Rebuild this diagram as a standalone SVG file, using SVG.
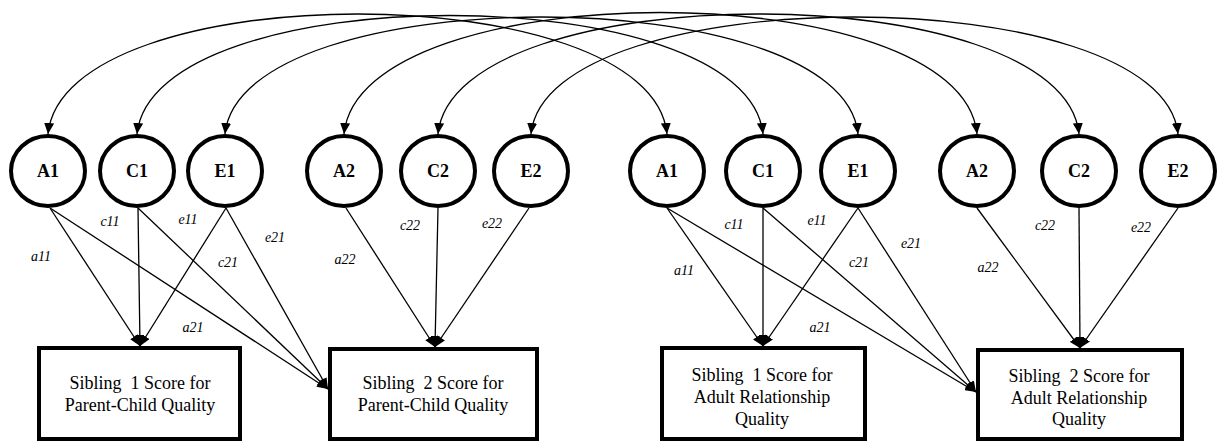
<svg xmlns="http://www.w3.org/2000/svg" width="1218" height="443" viewBox="0 0 1218 443">
<style>
.lat{fill:#fff;stroke:#000;stroke-width:4}
text{font-family:'Liberation Serif','Times New Roman',Times,'DejaVu Serif',serif}
.lt{font-weight:bold;font-size:18px;text-anchor:middle}
.box{fill:#fff;stroke:#000;stroke-width:4}
.bt{font-size:18px;text-anchor:middle;white-space:pre}
.lbl{font-style:italic;font-size:14px;text-anchor:middle}
.arc{fill:none;stroke:#000;stroke-width:1.3;marker-start:url(#ah);marker-end:url(#ah)}
.ln{fill:none;stroke:#000;stroke-width:1.3;marker-end:url(#ah2)}
</style>
<defs>
<marker id="ah" markerUnits="userSpaceOnUse" markerWidth="11" markerHeight="10" refX="11" refY="5" orient="auto-start-reverse" viewBox="0 0 11 10">
<path d="M0,0 L11,5 L0,10 z" fill="#000"/>
</marker>
<marker id="ah2" markerUnits="userSpaceOnUse" markerWidth="11" markerHeight="9" refX="11" refY="4.5" orient="auto" viewBox="0 0 11 9">
<path d="M0,0 L11,4.5 L0,9 z" fill="#000"/>
</marker>
</defs>
<g id="connectors">
<path class="arc" d="M48,134 C64,-26 651,-26 667,134"/>
<path class="arc" d="M137,134 C153,-24 747,-24 763,134"/>
<path class="arc" d="M225,134 C241,-22 842,-22 858,134"/>
<path class="arc" d="M344,134 C360,-28 961,-28 977,134"/>
<path class="arc" d="M438,134 C454,-26 1063,-26 1079,134"/>
<path class="arc" d="M531,134 C547,-22 1162,-22 1178,134"/>
<path class="ln" d="M50,208 L140,346"/>
<path class="ln" d="M138,208 L140,346"/>
<path class="ln" d="M226,208 L140,346"/>
<path class="ln" d="M50,208 L328,389"/>
<path class="ln" d="M138,208 L328,389"/>
<path class="ln" d="M226,208 L328,389"/>
<path class="ln" d="M346,208 L435,347"/>
<path class="ln" d="M438,208 L435,347"/>
<path class="ln" d="M529,208 L435,347"/>
<path class="ln" d="M667,208 L763,346"/>
<path class="ln" d="M763,208 L763,346"/>
<path class="ln" d="M858,208 L763,346"/>
<path class="ln" d="M667,208 L976,392"/>
<path class="ln" d="M763,208 L976,392"/>
<path class="ln" d="M858,208 L976,392"/>
<path class="ln" d="M977,208 L1080,348"/>
<path class="ln" d="M1079,208 L1080,348"/>
<path class="ln" d="M1178,208 L1080,348"/>
</g>
<g id="labels">
<text class="lbl" x="41" y="261">a11</text>
<text class="lbl" x="110" y="226">c11</text>
<text class="lbl" x="188" y="224">e11</text>
<text class="lbl" x="228" y="267">c21</text>
<text class="lbl" x="275" y="242">e21</text>
<text class="lbl" x="193" y="332">a21</text>
<text class="lbl" x="345" y="264">a22</text>
<text class="lbl" x="410" y="230">c22</text>
<text class="lbl" x="492" y="228">e22</text>
<text class="lbl" x="684" y="275">a11</text>
<text class="lbl" x="734" y="229">c11</text>
<text class="lbl" x="817" y="225">e11</text>
<text class="lbl" x="859" y="267">c21</text>
<text class="lbl" x="911" y="248">e21</text>
<text class="lbl" x="820" y="332">a21</text>
<text class="lbl" x="988" y="272">a22</text>
<text class="lbl" x="1045" y="230">c22</text>
<text class="lbl" x="1141" y="232">e22</text>
</g>
<g id="A1_s1"><ellipse class="lat" cx="48" cy="171" rx="37" ry="35"/><text class="lt" x="48" y="177">A1</text></g>
<g id="C1_s1"><ellipse class="lat" cx="137" cy="171" rx="37" ry="35"/><text class="lt" x="137" y="177">C1</text></g>
<g id="E1_s1"><ellipse class="lat" cx="225" cy="171" rx="37" ry="35"/><text class="lt" x="225" y="177">E1</text></g>
<g id="A2_s1"><ellipse class="lat" cx="344" cy="171" rx="37" ry="35"/><text class="lt" x="344" y="177">A2</text></g>
<g id="C2_s1"><ellipse class="lat" cx="438" cy="171" rx="37" ry="35"/><text class="lt" x="438" y="177">C2</text></g>
<g id="E2_s1"><ellipse class="lat" cx="531" cy="171" rx="37" ry="35"/><text class="lt" x="531" y="177">E2</text></g>
<g id="A1_s2"><ellipse class="lat" cx="667" cy="171" rx="37" ry="35"/><text class="lt" x="667" y="177">A1</text></g>
<g id="C1_s2"><ellipse class="lat" cx="763" cy="171" rx="37" ry="35"/><text class="lt" x="763" y="177">C1</text></g>
<g id="E1_s2"><ellipse class="lat" cx="858" cy="171" rx="37" ry="35"/><text class="lt" x="858" y="177">E1</text></g>
<g id="A2_s2"><ellipse class="lat" cx="977" cy="171" rx="37" ry="35"/><text class="lt" x="977" y="177">A2</text></g>
<g id="C2_s2"><ellipse class="lat" cx="1079" cy="171" rx="37" ry="35"/><text class="lt" x="1079" y="177">C2</text></g>
<g id="E2_s2"><ellipse class="lat" cx="1178" cy="171" rx="37" ry="35"/><text class="lt" x="1178" y="177">E2</text></g>
<g id="box1"><rect class="box" x="39" y="348" width="201" height="91"/>
<text class="bt" x="140" y="389" xml:space="preserve">Sibling  1 Score for</text>
<text class="bt" x="140" y="411">Parent-Child Quality</text></g>
<g id="box2"><rect class="box" x="330" y="349" width="207" height="90"/>
<text class="bt" x="433" y="389" xml:space="preserve">Sibling  2 Score for</text>
<text class="bt" x="433" y="411">Parent-Child Quality</text></g>
<g id="box3"><rect class="box" x="662" y="348" width="203" height="91"/>
<text class="bt" x="762" y="381" xml:space="preserve">Sibling  1 Score for</text>
<text class="bt" x="762" y="403">Adult Relationship</text>
<text class="bt" x="762" y="425">Quality</text></g>
<g id="box4"><rect class="box" x="978" y="350" width="204" height="89"/>
<text class="bt" x="1079" y="382" xml:space="preserve">Sibling  2 Score for</text>
<text class="bt" x="1079" y="404">Adult Relationship</text>
<text class="bt" x="1079" y="425">Quality</text></g>
</svg>
